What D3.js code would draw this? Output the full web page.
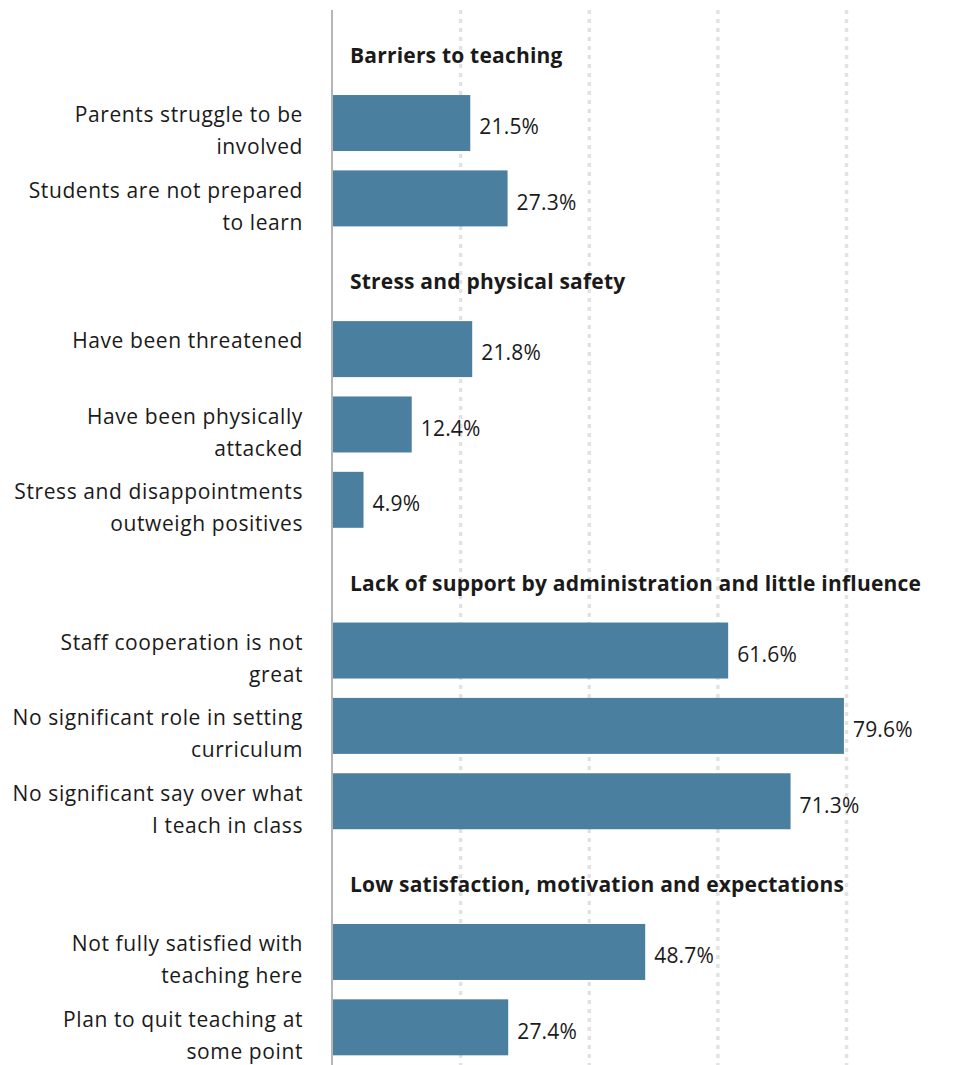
<!DOCTYPE html>
<html>
<head>
<meta charset="utf-8">
<script src="https://cdn.jsdelivr.net/npm/d3@7"></script>
<style>
  body { margin: 0; background: #fff; }
  text { font-family: "Open Sans", sans-serif; fill: #1a1a1a; }
</style>
</head>
<body>
<div id="chart"></div>
<script>
const groups = [
    "Barriers to teaching",
    "Stress and physical safety",
    "Lack of support by administration and little influence",
    "Low satisfaction, motivation and expectations"
];
const groupIndex = [0, 0, 1, 1, 1, 2, 2, 2, 3, 3];
const labels = [
    ["Parents struggle to be", "involved"],
    ["Students are not prepared", "to learn"],
    ["Have been threatened"],
    ["Have been physically", "attacked"],
    ["Stress and disappointments", "outweigh positives"],
    ["Staff cooperation is not", "great"],
    ["No significant role in setting", "curriculum"],
    ["No significant say over what", "I teach in class"],
    ["Not fully satisfied with", "teaching here"],
    ["Plan to quit teaching at", "some point"]
];
const values = [21.5, 27.3, 21.8, 12.4, 4.9, 61.6, 79.6, 71.3, 48.7, 27.4];
const gridTicks = [20, 40, 60, 80];

const width = 969, height = 1065;

// one row per group header, then one per bar
let rows = [];
groups.forEach((g, gi) => {
    rows.push({ type: "header", text: g });
    values.forEach((v, i) => {
        if (groupIndex[i] === gi) rows.push({ type: "bar", value: v, label: labels[i] });
    });
});
rows.forEach((r, i) => r.id = i);

const svg = d3.select("#chart").append("svg")
    .attr("width", width)
    .attr("height", height);

const xScale = d3.scaleLinear().domain([0, 80]).range([332, 846.5]);
const yScale = d3.scaleBand()
    .domain(rows.map(r => r.id))
    .range([10, height])
    .paddingInner(0.257)
    .paddingOuter(0.1285);

// dotted gridlines
svg.selectAll(".grid")
    .data(gridTicks)
    .enter()
    .append("line")
    .attr("x1", d => xScale(d))
    .attr("x2", d => xScale(d))
    .attr("y1", 10)
    .attr("y2", height)
    .style("stroke", "#e2e2e2")
    .style("stroke-width", 3.5)
    .style("stroke-dasharray", "4, 5");

const bars = rows.filter(r => r.type === "bar");
const headers = rows.filter(r => r.type === "header");

svg.selectAll(".bar")
    .data(bars)
    .enter()
    .append("rect")
    .attr("x", xScale(0))
    .attr("y", d => yScale(d.id))
    .attr("width", d => xScale(d.value) - xScale(0))
    .attr("height", yScale.bandwidth())
    .attr("fill", "#4a7fa0");

// baseline
svg.append("line")
    .attr("x1", xScale(0))
    .attr("x2", xScale(0))
    .attr("y1", 10)
    .attr("y2", height)
    .style("stroke", "#b5b5b5")
    .style("stroke-width", 2);

svg.selectAll(".value")
    .data(bars)
    .enter()
    .append("text")
    .attr("x", d => xScale(d.value) + 9)
    .attr("y", d => yScale(d.id) + yScale.bandwidth() / 2 + 4)
    .attr("dy", "0.35em")
    .style("font-size", "21px")
    .style("letter-spacing", "0.2px")
    .text(d => d.value.toFixed(1) + "%");

svg.selectAll(".header")
    .data(headers)
    .enter()
    .append("text")
    .attr("x", 350)
    .attr("y", d => yScale(d.id) + yScale.bandwidth() / 2 + 8)
    .attr("dy", "0.35em")
    .style("font-size", "21px")
    .style("letter-spacing", "0.2px")
    .style("font-weight", "bold")
    .text(d => d.text);

const labelGroups = svg.selectAll(".label")
    .data(bars)
    .enter()
    .append("text")
    .attr("text-anchor", "end")
    .style("font-size", "21px")
    .style("letter-spacing", "0.6px");

labelGroups.each(function(d) {
    const mid = yScale(d.id) + yScale.bandwidth() / 2;
    const n = d.label.length;
    d3.select(this).selectAll("tspan")
        .data(d.label)
        .enter()
        .append("tspan")
        .attr("x", 303)
        .attr("y", (t, i) => mid + (i - (n - 1) / 2) * 32 + (n > 1 ? 8 : -8))
        .attr("dy", "0.35em")
        .text(t => t);
});
</script>
</body>
</html>
